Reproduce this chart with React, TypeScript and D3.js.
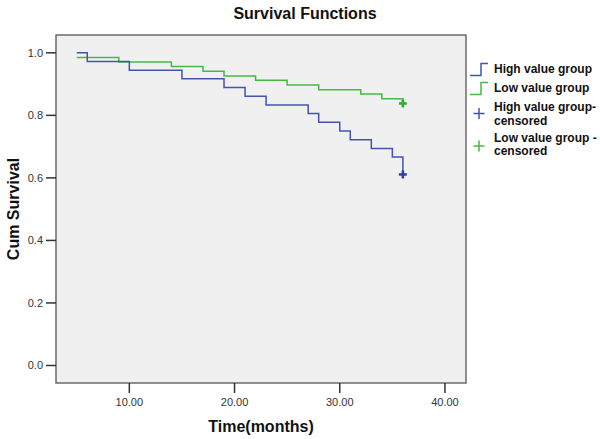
import React from "react";
import * as d3 from "d3";

const highTimes = [5, 6, 10, 15, 19, 21, 23, 27, 28, 30, 31, 33, 35, 36];
const highSurv = [1.0, 0.972, 0.944, 0.917, 0.889, 0.861, 0.833, 0.806, 0.778, 0.75, 0.722, 0.694, 0.667, 0.611];
const lowTimes = [5, 9, 14, 17, 19, 22, 25, 28, 32, 34, 36];
const lowSurv = [0.985, 0.971, 0.956, 0.941, 0.926, 0.912, 0.897, 0.882, 0.868, 0.853, 0.838];
const highCensored = [{ t: 36, s: 0.611 }];
const lowCensored = [{ t: 36, s: 0.838 }];
const xTicks = [10, 20, 30, 40];
const yTicks = [0, 0.2, 0.4, 0.6, 0.8, 1.0];
const legendLabels = [
  ["High value group"],
  ["Low value group"],
  ["High value group-", "censored"],
  ["Low value group -", "censored"],
];

const BLUE = "#4354b0";
const GREEN = "#45b945";
const BLUE_D = "#2e3f9f";
const GREEN_D = "#2aae2a";

export default function App() {
  const left = 56, right = 466, top = 35, bottom = 383;
  const x = d3.scaleLinear().domain([3.03, 42.0]).range([left, right]);
  const y = d3.scaleLinear().domain([-0.056, 1.057]).range([bottom, top]);
  const line = d3
    .line<[number, number]>()
    .x((d) => x(d[0]))
    .y((d) => y(d[1]))
    .curve(d3.curveStepAfter);
  const highPts = highTimes.map((t, i) => [t, highSurv[i]] as [number, number]);
  const lowPts = lowTimes.map((t, i) => [t, lowSurv[i]] as [number, number]);
  const font = "Arial, 'Liberation Sans', sans-serif";

  const plus = (cx: number, cy: number, c: string, r: number, w: number, key: string) => (
    <g key={key} stroke={c} strokeWidth={w}>
      <line x1={cx - r} x2={cx + r} y1={cy} y2={cy} />
      <line x1={cx} x2={cx} y1={cy - r} y2={cy + r} />
    </g>
  );

  return (
    <svg
      width={600}
      height={439}
      style={{ position: "absolute", left: 0, top: 0, background: "#ffffff" }}
      fontFamily={font}
    >
      <text x={305} y={19} textAnchor="middle" fontSize={16} fontWeight="bold" fill="#111">
        Survival Functions
      </text>
      <rect x={left} y={top} width={right - left} height={bottom - top} fill="#f0f0f0" stroke="#555" strokeWidth={1.3} />
      {yTicks.map((v) => (
        <g key={"y" + v}>
          <line x1={left - 10} x2={left} y1={y(v)} y2={y(v)} stroke="#333" strokeWidth={1.5} />
          <text x={43} y={y(v)} dy="0.35em" textAnchor="end" fontSize={11} fill="#333">
            {v.toFixed(1)}
          </text>
        </g>
      ))}
      {xTicks.map((v) => (
        <g key={"x" + v}>
          <line x1={x(v)} x2={x(v)} y1={bottom} y2={bottom + 10} stroke="#333" strokeWidth={1.5} />
          <text x={x(v)} y={402} dy="0.35em" textAnchor="middle" fontSize={11} fill="#333">
            {v.toFixed(2)}
          </text>
        </g>
      ))}
      <text x={261} y={432} textAnchor="middle" fontSize={16} fontWeight="bold" fill="#111">
        Time(months)
      </text>
      <text
        transform={`translate(19,${(top + bottom) / 2}) rotate(-90)`}
        textAnchor="middle"
        fontSize={16}
        fontWeight="bold"
        fill="#111"
      >
        Cum Survival
      </text>
      <path d={line(lowPts) || ""} fill="none" stroke={GREEN} strokeWidth={1.5} />
      <path d={line(highPts) || ""} fill="none" stroke={BLUE} strokeWidth={1.5} />
      {highCensored.map((c, i) => plus(x(c.t), y(c.s), BLUE_D, 4, 2.5, "hc" + i))}
      {lowCensored.map((c, i) => plus(x(c.t), y(c.s), GREEN_D, 4, 2.5, "lc" + i))}
      {/* legend */}
      <path d="M470,75.5 H481 V63.5 H488" fill="none" stroke={BLUE} strokeWidth={1.5} />
      <path d="M470,94.5 H481 V82.5 H488" fill="none" stroke={GREEN} strokeWidth={1.5} />
      {plus(479, 113.5, BLUE, 5.5, 1.5, "lh")}
      {plus(479, 146, GREEN, 5.5, 1.5, "ll")}
      {legendLabels.map((lines, i) => {
        const ys = [68.5, 87.5, 107, 137.5][i];
        return (
          <text key={"lg" + i} x={494} y={ys} fontSize={12} fontWeight="bold" fill="#111">
            {lines.map((l, j) => (
              <tspan key={j} x={494} dy={j === 0 ? "0.35em" : 13.5}>
                {l}
              </tspan>
            ))}
          </text>
        );
      })}
    </svg>
  );
}
